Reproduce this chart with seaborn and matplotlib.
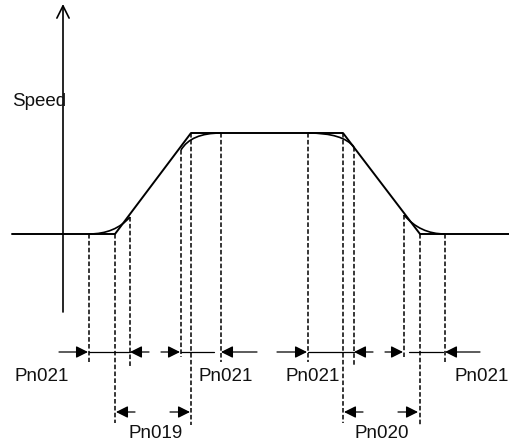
import matplotlib
matplotlib.use("Agg")
import matplotlib.pyplot as plt
from matplotlib.path import Path
from matplotlib.patches import PathPatch
import seaborn as sns

# everything is in picture pixels (x to the right, y downwards)
# trapezoid speed profile (linear accel / decel)
trap_x = [12, 115, 191, 343, 420, 509]
trap_y = [234, 234, 133, 133, 234, 234]

# S-curve roundings: start, corner (control), end
s_curves = [
    [(89, 234), (115, 234), (130, 217)],
    [(181, 150), (191, 133), (221, 133)],
    [(308, 133), (343, 133), (354, 147)],
    [(404, 215), (420, 234), (445, 234)],
]

# dashed drop lines
drop_x = [89, 115, 130, 181, 191, 221, 308, 343, 354, 404, 420, 445]
drop_top = [234, 234, 217, 150, 133, 133, 133, 133, 147, 215, 234, 234]
drop_bottom = [362, 423, 367, 357, 425, 362, 362, 423, 367, 357, 425, 362]

# dimension arrows (tail, tip)
row1_y = 352
row1_arrows = [(59, 88), (149, 130), (161, 180), (257, 221),
               (277, 307), (373, 354), (385, 403), (480, 445)]
row1_lines = [(89, 130), (181, 214), (308, 354), (409, 443)]
row2_y = 412
row2_arrows = [(135, 116), (170, 190), (363, 344), (398, 418)]

labels = ["Pn021", "Pn021", "Pn021", "Pn021", "Pn019", "Pn020", "Speed"]
label_x = [15, 199, 286, 455, 129, 355, 12]
label_y = [381, 381, 381, 381, 438, 438, 106]

sns.set_style("white")
plt.rcParams['font.family'] = ['Liberation Sans', 'DejaVu Sans']

fig = plt.figure(figsize=(5.09, 4.41), dpi=100)
ax = fig.add_axes([0, 0, 1, 1])
ax.set_xlim(0, 509)
ax.set_ylim(441, 0)
ax.axis('off')

# speed axis with open arrow head
ax.annotate("", xy=(63, 4), xytext=(63, 312),
            arrowprops=dict(arrowstyle="->", color="black", lw=1.2,
                            mutation_scale=22, shrinkA=0, shrinkB=0))

sns.lineplot(x=trap_x, y=trap_y, sort=False, estimator=None,
             color="black", lw=1.4, ax=ax)

for p0, p1, p2 in s_curves:
    path = Path([p0, p1, p2], [Path.MOVETO, Path.CURVE3, Path.CURVE3])
    ax.add_patch(PathPatch(path, fill=False, ec="black", lw=1.2))

ax.vlines(drop_x, drop_top, drop_bottom, colors="black", lw=1.1,
          linestyles=(0, (3, 1.5)))

for a, b in row1_lines:
    ax.plot([a, b], [row1_y, row1_y], color="black", lw=0.9)

for y, arrows in [(row1_y, row1_arrows), (row2_y, row2_arrows)]:
    for tail, tip in arrows:
        ax.annotate("", xy=(tip, y), xytext=(tail, y),
                    arrowprops=dict(arrowstyle="-|>", color="black", lw=0.9,
                                    mutation_scale=18, shrinkA=0, shrinkB=0))

for t, x, y in zip(labels, label_x, label_y):
    ax.text(x, y, t, ha="left", va="baseline", fontsize=13.5, color="#111111")

fig.savefig("out.png", dpi=100)
